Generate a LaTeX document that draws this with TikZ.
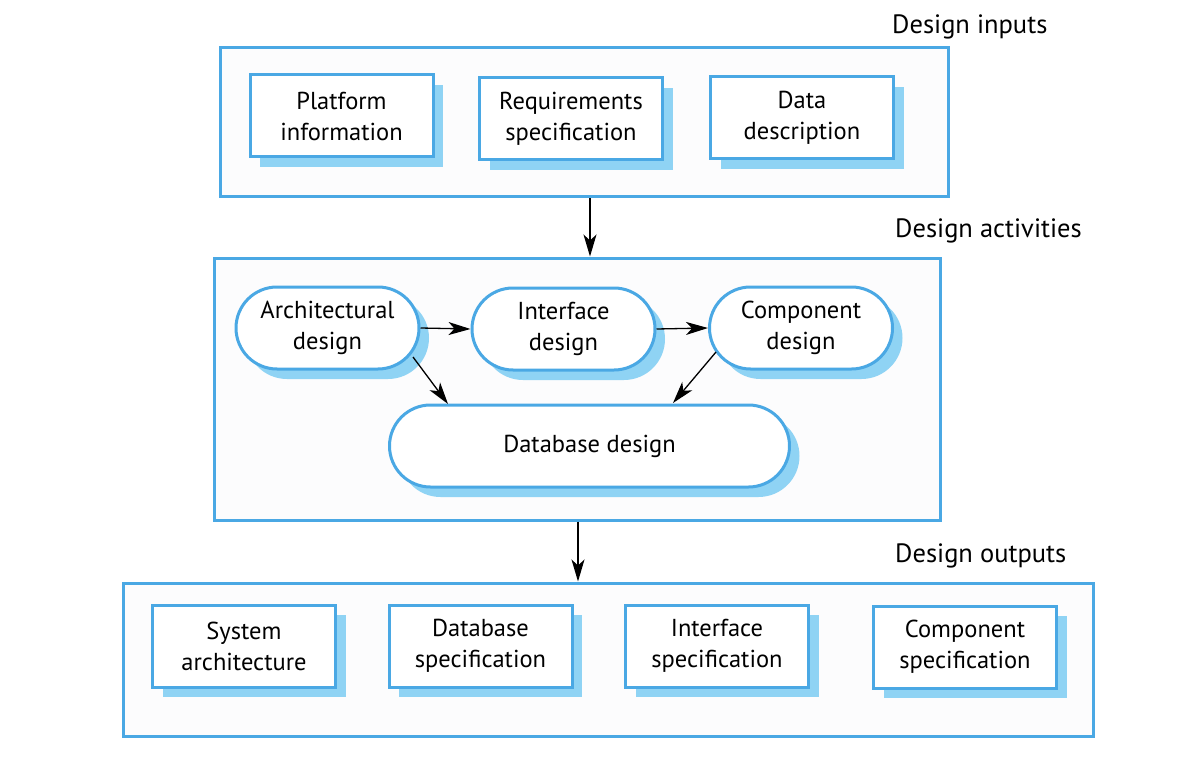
\documentclass[tikz,border=0pt]{standalone}
\usepackage{fontspec}
\setmainfont{PT Sans}
\usetikzlibrary{arrows.meta,shadows}
\definecolor{bordc}{HTML}{4AA8E4}
\definecolor{shadc}{HTML}{8FD3F4}
\definecolor{panelc}{HTML}{FCFCFD}
\tikzset{
  x=1pt,y=-1pt,
  panel/.style={draw=bordc,line width=3pt,fill=panelc,inner sep=0pt},
  docbox/.style={draw=bordc,line width=3pt,fill=white,minimum width=183pt,minimum height=82pt,
     align=center,font=\fontsize{24.5}{31}\selectfont,inner sep=0pt,
     drop shadow={shadow xshift=10pt,shadow yshift=-10pt,fill=shadc,opacity=1}},
  actbox/.style={docbox,rounded corners=41pt},
  lbl/.style={font=\fontsize{26.5}{30}\selectfont,anchor=west,inner sep=0pt},
  arr/.style={line width=1.3pt,-{Stealth[length=22pt,width=13pt,inset=6pt]}}
}
\begin{document}
\begin{tikzpicture}
\useasboundingbox (0,0) rectangle (1202,778);
% panels
\node[panel,minimum width=728pt,minimum height=149pt] (inp) at (584,122.5) {};
\node[panel,minimum width=726pt,minimum height=262pt] (act) at (577,389) {};
\node[panel,minimum width=970pt,minimum height=153pt] (out) at (608,659.5) {};
% labels
\node[lbl] (linp) at (892,27) {Design inputs};
\node[lbl] (lact) at (895,231) {Design activities};
\node[lbl] (lout) at (895,556) {Design outputs};
% inputs
\node[docbox] (plat) at (341.5,116) {Platform\\information};
\node[docbox] (req) at (571,119) {Requirements\\specification};
\node[docbox] (data) at (802,118) {Data\\description};
% activities
\node[actbox] (arch) at (327.5,328) {Architectural\\design};
\node[actbox] (intf) at (563.5,329) {Interface\\design};
\node[actbox] (comp) at (801,328) {Component\\design};
\node[actbox,minimum width=400pt] (db) at (589.5,446) {Database design};
% outputs
\node[docbox] (sys) at (244,646) {System\\architecture};
\node[docbox] (dbs) at (480.5,646) {Database\\specification};
\node[docbox] (ifs) at (717,646) {Interface\\specification};
\node[docbox] (cps) at (965,647) {Component\\specification};
% connectors
\draw[arr] (inp.south -| 590,0) -- (act.north -| 590,0);
\draw[arr] (arch.east) -- (intf.west);
\draw[arr] (intf.east) -- (comp.west);
\draw[arr] (413,357) -- (448,404);
\draw[arr] (716,352) -- (673,403);
\draw[arr] (act.south -| 578,0) -- (out.north -| 578,0);
\end{tikzpicture}
\end{document}
